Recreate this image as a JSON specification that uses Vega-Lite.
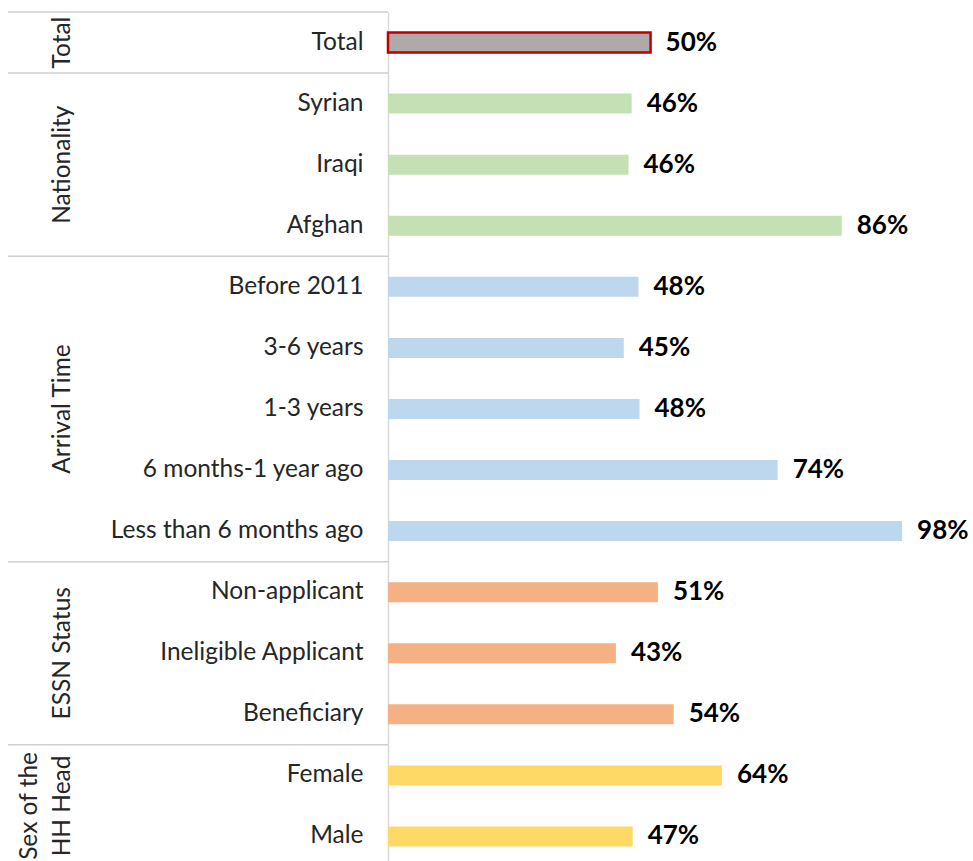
{
  "$schema": "https://vega.github.io/schema/vega-lite/v6.json",
  "width": 585,
  "height": 855,
  "autosize": "none",
  "padding": {"left": 388, "top": 12, "right": 0, "bottom": 0},
  "background": "white",
  "config": {"view": {"stroke": null}, "font": "Lato"},
  "datasets": {
    "rows": [
      {"cat": "Total", "group": "Total", "value": 0.50},
      {"cat": "Syrian", "group": "Nationality", "value": 0.464},
      {"cat": "Iraqi", "group": "Nationality", "value": 0.458},
      {"cat": "Afghan", "group": "Nationality", "value": 0.864},
      {"cat": "Before 2011", "group": "Arrival Time", "value": 0.477},
      {"cat": "3-6 years", "group": "Arrival Time", "value": 0.449},
      {"cat": "1-3 years", "group": "Arrival Time", "value": 0.479},
      {"cat": "6 months-1 year ago", "group": "Arrival Time", "value": 0.742},
      {"cat": "Less than 6 months ago", "group": "Arrival Time", "value": 0.979},
      {"cat": "Non-applicant", "group": "ESSN Status", "value": 0.514},
      {"cat": "Ineligible Applicant", "group": "ESSN Status", "value": 0.434},
      {"cat": "Beneficiary", "group": "ESSN Status", "value": 0.544},
      {"cat": "Female", "group": "Sex of the HH Head", "value": 0.636},
      {"cat": "Male", "group": "Sex of the HH Head", "value": 0.466}
    ],
    "groups": [
      {"group": "Total", "first": "Total", "anchor": "Total", "label": "Total"},
      {"group": "Nationality", "first": "Syrian", "anchor": "Iraqi", "label": "Nationality"},
      {"group": "Arrival Time", "first": "Before 2011", "anchor": "1-3 years", "label": "Arrival Time"},
      {"group": "ESSN Status", "first": "Non-applicant", "anchor": "Ineligible Applicant", "label": "ESSN Status"},
      {"group": "Sex of the HH Head", "first": "Female", "anchor": "Female", "label": "Sex of the|HH Head"}
    ]
  },
  "layer": [
    {
      "data": {"name": "rows"},
      "mark": {"type": "bar", "size": 20, "strokeWidth": 2.5},
      "encoding": {
        "y": {
          "field": "cat", "type": "nominal",
          "scale": {"domain": ["Total", "Syrian", "Iraqi", "Afghan", "Before 2011", "3-6 years", "1-3 years", "6 months-1 year ago", "Less than 6 months ago", "Non-applicant", "Ineligible Applicant", "Beneficiary", "Female", "Male"], "paddingInner": 0, "paddingOuter": 0},
          "axis": {"title": null, "ticks": false, "labelFontSize": 24.5, "labelColor": "#262626", "labelPadding": 25, "labelLimit": 400, "domainColor": "#D9D9D9", "domainWidth": 1.5, "labelFont": "Lato"}
        },
        "x": {"field": "value", "type": "quantitative", "scale": {"domain": [0, 1.114], "nice": false, "zero": true}, "axis": null},
        "color": {
          "field": "group", "type": "nominal", "legend": null,
          "scale": {"domain": ["Total", "Nationality", "Arrival Time", "ESSN Status", "Sex of the HH Head"], "range": ["#ADAAA9", "#C5E0B4", "#BDD7EE", "#F4B183", "#FFD966"]}
        },
        "stroke": {"condition": {"test": "datum.group === 'Total'", "value": "#C00000"}, "value": "transparent"}
      }
    },
    {
      "data": {"name": "rows"},
      "mark": {"type": "text", "align": "left", "baseline": "middle", "dx": 15, "fontSize": 26, "fontWeight": "bold", "color": "#000000", "font": "Lato"},
      "encoding": {
        "y": {"field": "cat", "type": "nominal"},
        "x": {"field": "value", "type": "quantitative"},
        "text": {"field": "value", "type": "quantitative", "format": ".0%"}
      }
    },
    {
      "data": {"name": "groups"},
      "mark": {"type": "rule", "color": "#D0D0D0", "strokeWidth": 1.5},
      "encoding": {
        "y": {"field": "first", "type": "nominal", "bandPosition": 0},
        "x": {"datum": -0.7238},
        "x2": {"datum": 0}
      }
    },
    {
      "data": {"name": "groups"},
      "transform": [{"filter": "datum.group !== 'Sex of the HH Head'"}],
      "mark": {"type": "text", "angle": 270, "align": "center", "baseline": "alphabetic", "fontSize": 24.5, "color": "#262626", "font": "Lato"},
      "encoding": {
        "y": {"field": "anchor", "type": "nominal", "bandPosition": 0.5},
        "x": {"datum": -0.6057},
        "text": {"field": "label", "type": "nominal"}
      }
    },
    {
      "data": {"name": "groups"},
      "transform": [{"filter": "datum.group === 'Sex of the HH Head'"}],
      "mark": {"type": "text", "angle": 270, "align": "center", "baseline": "alphabetic", "fontSize": 24.5, "color": "#262626", "font": "Lato", "lineBreak": "|", "lineHeight": 33},
      "encoding": {
        "y": {"field": "anchor", "type": "nominal", "bandPosition": 1},
        "x": {"datum": -0.6686},
        "text": {"field": "label", "type": "nominal"}
      }
    }
  ]
}
